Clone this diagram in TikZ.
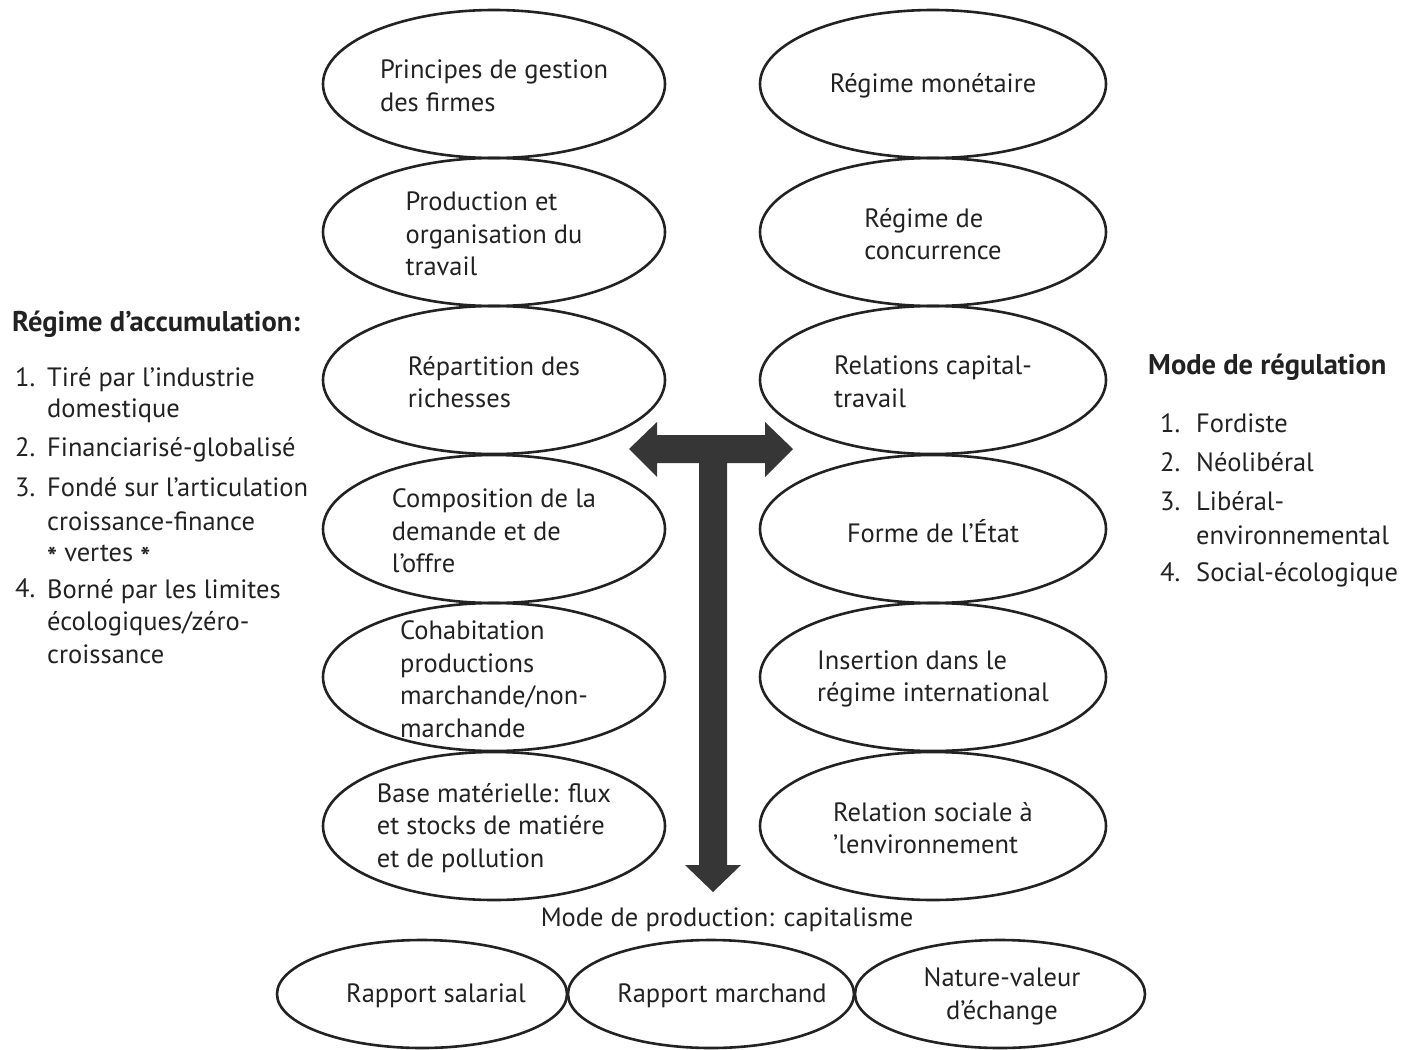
\documentclass[tikz,border=0pt]{standalone}
\usepackage{fontspec}
\setmainfont{PT Sans}
\usetikzlibrary{shapes.geometric}
\definecolor{ink}{HTML}{222222}
\definecolor{arrowgray}{HTML}{363636}
\begin{document}
\begin{tikzpicture}[x=1pt,y=-1pt,
  oval/.style={draw=ink, line width=2.6pt, shape=ellipse, inner sep=0pt, minimum width=342pt, minimum height=148pt},
  bottomoval/.style={draw=ink, line width=2.6pt, shape=ellipse, inner sep=0pt, minimum width=290pt, minimum height=108pt},
  ovaltext/.style={align=left, text=ink, font=\fontsize{26.5}{32.5}\selectfont, inner sep=0pt, yshift=-2pt},
  bottomtext/.style={align=center, text=ink, font=\fontsize{26.5}{33}\selectfont, inner sep=0pt, yshift=-2pt},
  listline/.style={anchor=base west, text=ink, font=\fontsize{26.5}{30}\selectfont, inner sep=0pt},
  heading/.style={anchor=base west, text=ink, font=\bfseries\fontsize{28.5}{30}\selectfont, inner sep=0pt}]
\useasboundingbox (0,0) rectangle (1404,1049);
% left column
\node[oval] (l1) at (494,84) {};
\node[oval] (l2) at (494,232) {};
\node[oval] (l3) at (494,380) {};
\node[oval] (l4) at (494,529) {};
\node[oval] (l5) at (494,677) {};
\node[oval] (l6) at (494,826) {};
\node[ovaltext] (tl1) at (l1.center) {Principes de gestion\\des firmes};
\node[ovaltext] (tl2) at (l2.center) {Production et\\organisation du\\travail};
\node[ovaltext] (tl3) at (l3.center) {Répartition des\\richesses};
\node[ovaltext] (tl4) at (l4.center) {Composition de la\\demande et de\\l’offre};
\node[ovaltext] (tl5) at (l5.center) {Cohabitation\\productions\\marchande/non-\\marchande};
\node[ovaltext] (tl6) at (l6.center) {Base matérielle: flux\\et stocks de matiére\\et de pollution};
% right column
\node[oval, minimum width=346pt] (r1) at (933,84) {};
\node[oval, minimum width=346pt] (r2) at (933,232) {};
\node[oval, minimum width=346pt] (r3) at (933,380) {};
\node[oval, minimum width=346pt] (r4) at (933,529) {};
\node[oval, minimum width=346pt] (r5) at (933,677) {};
\node[oval, minimum width=346pt] (r6) at (933,826) {};
\node[ovaltext] (tr1) at (r1.center) {Régime monétaire};
\node[ovaltext] (tr2) at (r2.center) {Régime de\\concurrence};
\node[ovaltext] (tr3) at (r3.center) {Relations capital-\\travail};
\node[ovaltext] (tr4) at (r4.center) {Forme de l’État};
\node[ovaltext] (tr5) at (r5.center) {Insertion dans le\\régime international};
\node[ovaltext] (tr6) at (r6.center) {Relation sociale à\\’lenvironnement};
% bottom
\node[bottomtext] (mp) at (727,918) {Mode de production: capitalisme};
\node[bottomoval] (b1) at (422,994) {};
\node[bottomoval, minimum width=286pt] (b2) at (711,994) {};
\node[bottomoval] (b3) at (1000,994) {};
\node[bottomtext] (tb1) at ([xshift=14pt]b1.center) {Rapport salarial};
\node[bottomtext] (tb2) at ([xshift=11pt]b2.center) {Rapport marchand};
\node[bottomtext] (tb3) at ([xshift=2pt]b3.center) {Nature-valeur\\d’échange};
% arrow
\coordinate (hub) at (713,449);
\fill[arrowgray] (629,449) -- (657,422) -- (657,435) -- (765,435) -- (765,422) -- (793,449)
  -- (765,477) -- (765,463) -- (727,463) -- (727,865) -- (741,865) -- (713,892)
  -- (685,865) -- (699,865) -- (699,463) -- (657,463) -- (657,477) -- cycle;
% left list
\node[heading] (hl) at (12,331) {Régime d’accumulation:};
\node[listline] (n1) at (15,386) {1.};
\node[listline] (i1a) at (47,386) {Tiré par l’industrie};
\node[listline] (i1b) at (47,417) {domestique};
\node[listline] (n2) at (15,456) {2.};
\node[listline] (i2a) at (47,456) {Financiarisé-globalisé};
\node[listline] (n3) at (15,496) {3.};
\node[listline] (i3a) at (47,496) {Fondé sur l’articulation};
\node[listline] (i3b) at (47,530) {croissance-finance};
\node[listline] (i3c) at (47,561) {\raisebox{-0.22em}{\bfseries *} vertes \raisebox{-0.22em}{\bfseries *}};
\node[listline] (n4) at (15,597) {4.};
\node[listline] (i4a) at (47,598) {Borné par les limites};
\node[listline] (i4b) at (47,630) {écologiques/zéro-};
\node[listline] (i4c) at (47,663) {croissance};
% right list
\node[heading] (hr) at (1148,374) {Mode de régulation};
\node[listline] (m1) at (1160,432) {1.};
\node[listline] (j1) at (1196,432) {Fordiste};
\node[listline] (m2) at (1160,471) {2.};
\node[listline] (j2) at (1196,471) {Néolibéral};
\node[listline] (m3) at (1160,510) {3.};
\node[listline] (j3a) at (1196,510) {Libéral-};
\node[listline] (j3b) at (1196,544) {environnemental};
\node[listline] (m4) at (1160,581) {4.};
\node[listline] (j4) at (1196,581) {Social-écologique};
\end{tikzpicture}
\end{document}
